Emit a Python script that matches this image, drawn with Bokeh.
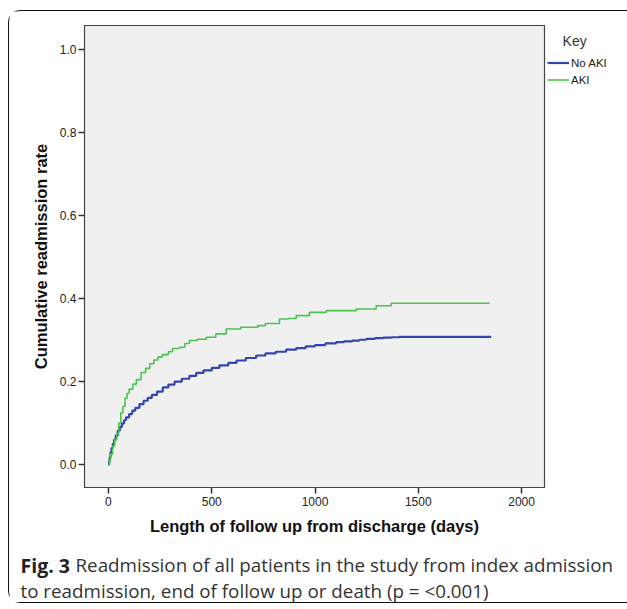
from bokeh.plotting import figure
from bokeh.models import Range1d, FixedTicker, NumeralTickFormatter, Legend, LegendItem, Title
from bokeh.embed import file_html
from bokeh.resources import INLINE

# Data (days, cumulative readmission rate)
aki_days = [0, 5, 10, 20, 30, 40, 50, 60, 70, 80, 90, 100, 118, 135, 158, 180, 200, 220, 239,
            260, 290, 310, 344, 370, 392, 430, 473, 520, 570, 640, 723, 760, 828, 870, 909,
            973, 1054, 1199, 1296, 1369, 1845]
aki_rate = [0.0, 0.01, 0.025, 0.045, 0.06, 0.075, 0.10, 0.125, 0.14, 0.16, 0.172, 0.182, 0.194,
            0.205, 0.222, 0.232, 0.243, 0.252, 0.259, 0.265, 0.272, 0.28, 0.283, 0.292, 0.299,
            0.302, 0.307, 0.315, 0.327, 0.331, 0.335, 0.34, 0.351, 0.352, 0.359, 0.367, 0.371,
            0.375, 0.383, 0.389, 0.389]
noaki_days = [0, 3, 6, 10, 15, 21, 27, 35, 45, 55, 65, 75, 85, 100, 115, 130, 150, 170, 190,
              210, 235, 263, 290, 320, 355, 392, 425, 460, 500, 537, 580, 620, 665, 715, 760,
              810, 860, 909, 955, 1000, 1050, 1102, 1140, 1180, 1215, 1248, 1290, 1330, 1370,
              1409, 1853]
noaki_rate = [0.0, 0.008, 0.018, 0.03, 0.04, 0.05, 0.06, 0.07, 0.082, 0.091, 0.099, 0.107, 0.114,
              0.122, 0.13, 0.137, 0.146, 0.154, 0.161, 0.168, 0.176, 0.186, 0.193, 0.2, 0.207,
              0.214, 0.221, 0.227, 0.233, 0.239, 0.245, 0.251, 0.257, 0.263, 0.268, 0.272, 0.277,
              0.281, 0.285, 0.288, 0.292, 0.295, 0.297, 0.299, 0.301, 0.303, 0.305, 0.306, 0.307,
              0.308, 0.308]
x_ticks = [0, 500, 1000, 1500, 2000]
y_ticks = [0.0, 0.2, 0.4, 0.6, 0.8, 1.0]
series_labels = ["No AKI", "AKI"]
caption_bold = "Fig. 3"
caption_line1 = "Readmission of all patients in the study from index admission"
caption_line2 = "to readmission, end of follow up or death (p = <0.001)"

BLUE = "#3346b0"
GREEN = "#4cc250"

p = figure(frame_width=460, frame_height=462,
           min_border_left=75, min_border_top=14, min_border_right=78, min_border_bottom=115,
           x_range=Range1d(-116, 2111), y_range=Range1d(-0.055, 1.058),
           output_backend="svg", toolbar_location=None)
p.styles = {"border": "1.5px solid #111111", "border-radius": "12px",
            "margin-left": "8px", "margin-top": "10px"}

p.background_fill_color = "#f0f0f0"
p.border_fill_color = "white"
p.outline_line_color = "#444444"
p.outline_line_width = 1.2
p.grid.visible = False

for ax in (p.xaxis, p.yaxis):
    ax.major_tick_out = 6
    ax.major_tick_in = 0
    ax.minor_tick_line_color = None
    ax.axis_line_color = "#444444"
    ax.major_tick_line_color = "#333333"
    ax.major_tick_line_width = 1.5
    ax.major_label_text_font = "Liberation Sans"
    ax.major_label_text_font_size = "12px"
    ax.major_label_text_color = "#222222"
    ax.axis_label_text_font = "Liberation Sans"
    ax.axis_label_text_font_style = "bold"
    ax.axis_label_text_font_size = "16.5px"
    ax.axis_label_text_color = "#111111"

p.xaxis.ticker = FixedTicker(ticks=x_ticks)
p.yaxis.ticker = FixedTicker(ticks=y_ticks)
p.yaxis.formatter = NumeralTickFormatter(format="0.0")
p.xaxis.major_label_standoff = 3
p.yaxis.major_label_standoff = 2
p.xaxis.axis_label = "Length of follow up from discharge (days)"
p.yaxis.axis_label = "Cumulative readmission rate"
p.xaxis.axis_label_standoff = 8
p.yaxis.axis_label_standoff = 7

r_no = p.step(noaki_days, noaki_rate, mode="after", line_color=BLUE, line_width=2.2)
r_aki = p.step(aki_days, aki_rate, mode="after", line_color=GREEN, line_width=1.6)

legend = Legend(items=[LegendItem(label=series_labels[0], renderers=[r_no]),
                       LegendItem(label=series_labels[1], renderers=[r_aki])],
                title="\u00a0\u00a0\u00a0\u00a0Key", title_text_font="Liberation Sans",
                title_text_font_size="14px", title_text_font_style="normal",
                title_text_color="#333333", title_standoff=6,
                location=(3, 400), orientation="vertical",
                border_line_color=None, background_fill_alpha=0,
                label_text_font="Liberation Sans", label_text_font_size="11.5px",
                label_text_color="#222222", glyph_width=22, glyph_height=15,
                label_standoff=2, spacing=2, padding=0, margin=0, label_height=15)
p.add_layout(legend, "right")

# Caption lines as titles below the x axis
cap_font = "Open Sans"
cap_size = "18.8px"
t_line1 = Title(text=caption_line1, align="left", offset=-9, vertical_align="top",
                standoff=28, text_font=cap_font, text_font_size=cap_size,
                text_font_style="normal", text_color="#333333")
t_line2 = Title(text=caption_line2, align="left", offset=-64, vertical_align="top",
                standoff=-32, text_font=cap_font, text_font_size=cap_size,
                text_font_style="normal", text_color="#333333")
t_bold = Title(text=caption_bold, align="left", offset=-64, vertical_align="top",
               standoff=-84, text_font=cap_font, text_font_size="19.5px",
               text_font_style="bold", text_color="#222222")
p.add_layout(t_line1, "below")
p.add_layout(t_line2, "below")
p.add_layout(t_bold, "below")

open("out.html", "w").write(file_html(p, INLINE))
